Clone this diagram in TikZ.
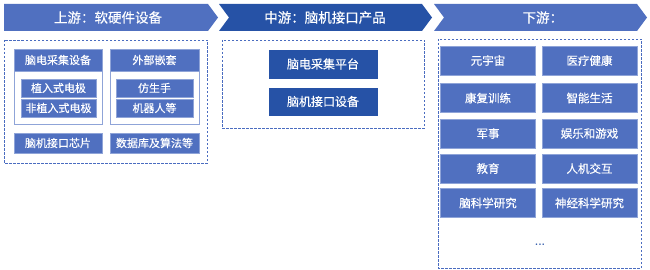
\documentclass[tikz,border=0pt]{standalone}
\usepackage{fontspec}
\newfontfamily\cjk[FakeBold=0.35]{Noto Sans CJK SC}
\definecolor{lb}{HTML}{5070C0}
\definecolor{db}{HTML}{2652A6}
\definecolor{dashc}{HTML}{4A6CC0}
\definecolor{edge}{HTML}{8FA4D8}
\tikzset{
  btext/.style={text=white,font=\cjk\fontsize{13.5}{15}\selectfont},
  dbox/.style={draw=dashc,line width=0.9pt,dash pattern=on 2.5pt off 1.5pt},
  lbox/.style={fill=lb,draw=edge,line width=0.8pt,text=white,font=\cjk\fontsize{11}{13}\selectfont,inner sep=0pt},
  mbox/.style={fill=db,draw=white,line width=0.6pt,text=white,font=\cjk\fontsize{12}{14}\selectfont,inner sep=0pt},
  wbox/.style={fill=white,draw=edge,line width=0.8pt},
}
\begin{document}
\begin{tikzpicture}[x=1pt,y=-1pt]
\useasboundingbox (0,0) rectangle (650,270);
% banners
\fill[lb] (4,4) -- (208,4) -- (218,17.5) -- (208,31) -- (4,31) -- cycle;
\fill[db] (219,4) -- (422,4) -- (432,17.5) -- (422,31) -- (219,31) -- (229,17.5) -- cycle;
\fill[lb] (434,4) -- (637,4) -- (647,17.5) -- (637,31) -- (434,31) -- (444,17.5) -- cycle;
\node[btext] (b1) at (108,17.5) {上游：软硬件设备};
\node[btext] (b2) at (325,17.5) {中游：脑机接口产品};
\node[btext,anchor=west] (b3) at (519,17.5) {下游：};
% dashed frames
\draw[dbox] (4,40) rectangle (207,163);
\draw[dbox] (222,40) rectangle (424,128);
\draw[dbox] (438,39) rectangle (641,268);
% upstream
\draw[wbox] (14,49) rectangle (102,124);
\node[lbox,minimum width=88pt,minimum height=22pt] (u1) at (58,60) {脑电采集设备};
\node[lbox,minimum width=75pt,minimum height=18pt] (u1a) at (58.5,88) {植入式电极};
\node[lbox,minimum width=75pt,minimum height=18pt] (u1b) at (58.5,108) {非植入式电极};
\draw[wbox] (110,49) rectangle (199,124);
\node[lbox,minimum width=89pt,minimum height=22pt] (u2) at (154.5,60) {外部嵌套};
\node[lbox,minimum width=77pt,minimum height=18pt] (u2a) at (154.5,88) {仿生手};
\node[lbox,minimum width=77pt,minimum height=18pt] (u2b) at (154.5,108) {机器人等};
\node[lbox,minimum width=88pt,minimum height=20pt] (u3) at (58,143) {脑机接口芯片};
\node[lbox,minimum width=89pt,minimum height=20pt] (u4) at (154.5,143) {数据库及算法等};
% midstream
\node[mbox,minimum width=110pt,minimum height=30pt] (m1) at (323,64) {脑电采集平台};
\node[mbox,minimum width=110pt,minimum height=29pt] (m2) at (323,101.5) {脑机接口设备};
% downstream
\tikzset{dsb/.style={lbox,font=\cjk\fontsize{11.5}{13}\selectfont,minimum width=95pt,minimum height=29pt}}
\node[dsb] (d1) at (488,60.5) {元宇宙};
\node[dsb] (d2) at (589.5,60.5) {医疗健康};
\node[dsb] (d3) at (488,98) {康复训练};
\node[dsb] (d4) at (589.5,98) {智能生活};
\node[dsb] (d5) at (488,133.5) {军事};
\node[dsb] (d6) at (589.5,133.5) {娱乐和游戏};
\node[dsb] (d7) at (488,168.5) {教育};
\node[dsb] (d8) at (589.5,168.5) {人机交互};
\node[dsb] (d9) at (488,203) {脑科学研究};
\node[dsb] (d10) at (589.5,203) {神经科学研究};
\node[text=db,font=\fontsize{11}{13}\selectfont\bfseries] (dots) at (540,245) {...};
\end{tikzpicture}
\end{document}
